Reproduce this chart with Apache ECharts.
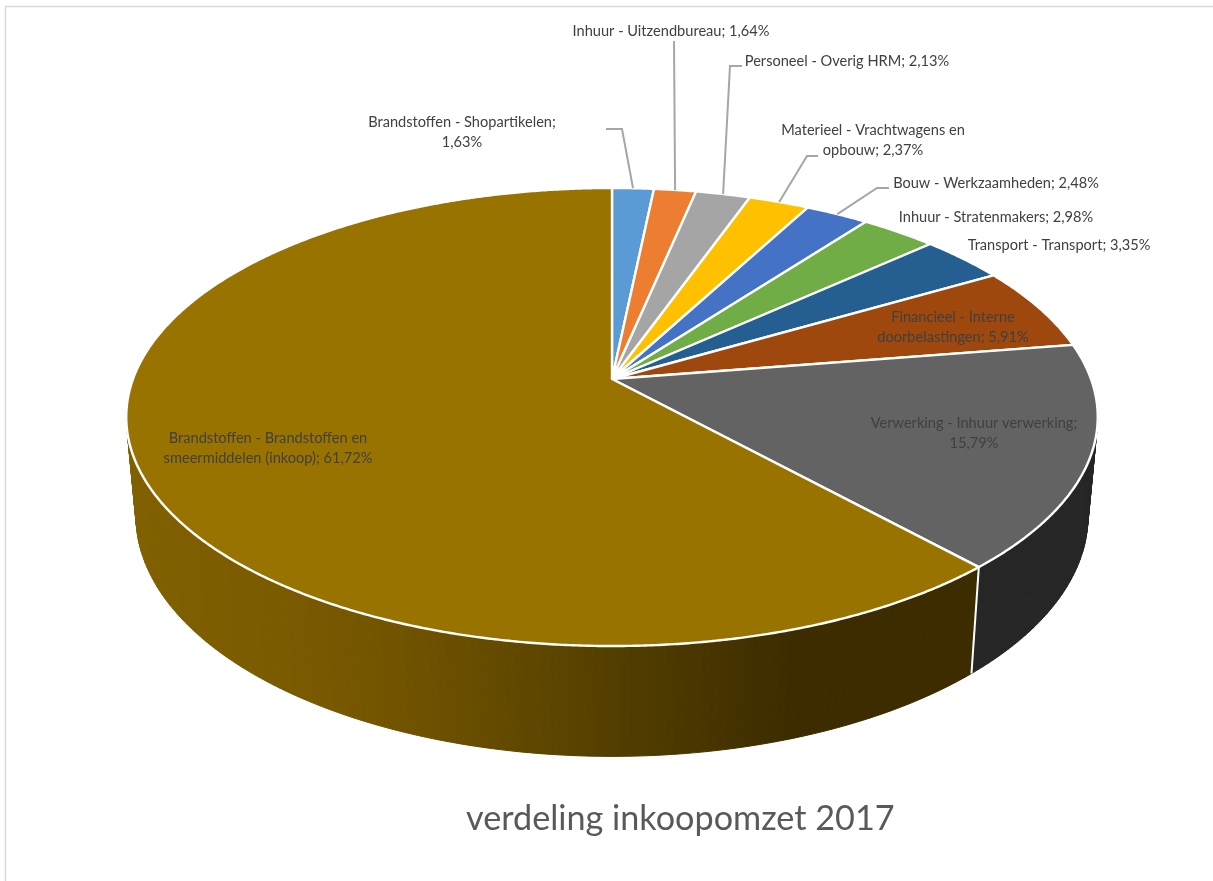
<!DOCTYPE html>
<html>
<head>
<meta charset="utf-8">
<title>verdeling inkoopomzet 2017</title>
<script src="https://cdn.jsdelivr.net/npm/echarts@6/dist/echarts.min.js"></script>
<style>
    html, body { margin: 0; padding: 0; background: #fff; }
    #PieChart { width: 1213px; height: 881px; }
</style>
</head>
<body>
<div id="PieChart"></div>
<script>
const chartTitle = 'verdeling inkoopomzet 2017'
const categories = [
    'Brandstoffen - Shopartikelen',
    'Inhuur - Uitzendbureau',
    'Personeel - Overig HRM',
    'Materieel - Vrachtwagens en opbouw',
    'Bouw - Werkzaamheden',
    'Inhuur - Stratenmakers',
    'Transport - Transport',
    'Financieel - Interne doorbelastingen',
    'Verwerking - Inhuur verwerking',
    'Brandstoffen - Brandstoffen en smeermiddelen (inkoop)'
]
const seriesValues = [1.63, 1.64, 2.13, 2.37, 2.48, 2.98, 3.35, 5.91, 15.79, 61.72]

const sliceColors = ['#5b9bd5', '#ed7d31', '#a5a5a5', '#ffc000', '#4472c4', '#70ad47', '#255e91', '#9e480e', '#636363', '#997300']

// where each label goes; leader runs from the rim to these points
const labelLayout = [
    { x: 462, y: 132, breakAfter: 'Shopartikelen;', leader: [[622, 129], [606, 129]] },
    { x: 671, y: 31, leader: [[674, 41]] },
    { x: 847, y: 61, leader: [[730, 66], [742, 66]] },
    { x: 873, y: 140, breakAfter: 'Vrachtwagens en', leader: [[807, 156], [818, 156]] },
    { x: 996, y: 183, leader: [[877, 188], [889, 188]] },
    { x: 996, y: 217 },
    { x: 1059, y: 245 },
    { x: 953, y: 327, breakAfter: 'Interne' },
    { x: 974, y: 433, breakAfter: 'verwerking;' },
    { x: 268, y: 448, breakAfter: 'Brandstoffen en' }
]

// the tilted disc: apex of the slices and perspective of the rim
const apex = { x: 612, y: 379 }
const disc = { rx: 479, ry: 222.7, tilt: -0.166 }
const base = { dy: 97, sx: 0.98, sy: 1.05 }

// side wall shading of the big slice, dark towards the right
const wallStops = [[130, '#806000'], [300, '#7a5a00'], [420, '#6f5200'], [600, '#554000'], [790, '#3d2c00'], [980, '#3d2c00']]
const wallDark = '#262626'
const labelFont = '14.6px Lato'

const total = seriesValues.reduce((a, b) => a + b, 0)
const startPct = []
seriesValues.reduce((sum, v, i) => { startPct[i] = sum; return sum + v }, 0)

const rimOffset = (pct) => {
    const a = pct / total * Math.PI * 2
    const u = Math.sin(a)
    const v = -Math.cos(a)
    const d = 1 + disc.tilt * v
    return [disc.rx * u / d, disc.ry * v / d]
}
const topPoint = (pct) => {
    const p = rimOffset(pct)
    return [apex.x + p[0], apex.y + p[1]]
}
const basePoint = (pct) => {
    const p = rimOffset(pct)
    return [apex.x + p[0] * base.sx, apex.y + base.dy + p[1] * base.sy]
}
const wallColor = (x) => {
    for (let i = 1; i < wallStops.length; i++) {
        if (x <= wallStops[i][0]) {
            const t = Math.max(0, (x - wallStops[i - 1][0]) / (wallStops[i][0] - wallStops[i - 1][0]))
            return echarts.color.lerp(t, [wallStops[i - 1][1], wallStops[i][1]])
        }
    }
    return wallStops[wallStops.length - 1][1]
}

const renderWall = (params) => {
    const i = params.dataIndex
    const children = []
    if (i < 8) return { type: 'group', children }
    const from = startPct[i]
    const to = from + seriesValues[i]
    const step = 0.25
    for (let p = from; p < to; p += step) {
        const q = Math.min(p + step, to)
        const t1 = topPoint(p), t2 = topPoint(q), b1 = basePoint(p), b2 = basePoint(q)
        if (t1[1] < apex.y - 60) continue
        const color = i === 8 ? wallDark : wallColor((t1[0] + t2[0]) / 2)
        children.push({
            type: 'polygon',
            shape: { points: [t1, t2, b2, b1] },
            style: { fill: color, stroke: color, lineWidth: 1 }
        })
    }
    if (i === 9) {
        children.push({
            type: 'line',
            shape: { x1: topPoint(from)[0], y1: topPoint(from)[1], x2: basePoint(from)[0], y2: basePoint(from)[1] },
            style: { stroke: '#fff', lineWidth: 2 }
        })
    }
    return { type: 'group', children }
}

const renderFace = (params) => {
    const i = params.dataIndex
    const from = startPct[i]
    const to = from + seriesValues[i]
    const points = [[apex.x, apex.y]]
    for (let p = from; p < to; p += 0.1) points.push(topPoint(p))
    points.push(topPoint(to))
    return {
        type: 'polygon',
        shape: { points },
        style: { fill: sliceColors[i], stroke: '#fff', lineWidth: 2.4, lineJoin: 'round' }
    }
}

const renderLabel = (params) => {
    const i = params.dataIndex
    const layout = labelLayout[i]
    let text = categories[i] + '; ' + seriesValues[i].toFixed(2).replace('.', ',') + '%'
    if (layout.breakAfter) text = text.replace(layout.breakAfter + ' ', layout.breakAfter + '\n')
    const children = [{
        type: 'text',
        style: {
            text, x: layout.x, y: layout.y,
            align: 'center', verticalAlign: 'middle',
            font: labelFont, lineHeight: 20, fill: '#404040'
        }
    }]
    if (layout.leader) {
        children.push({
            type: 'polyline',
            shape: { points: [topPoint(startPct[i] + seriesValues[i] / 2)].concat(layout.leader) },
            style: { stroke: '#a6a6a6', lineWidth: 2, fill: null }
        })
    }
    return { type: 'group', children }
}

const customSeries = (name, renderItem) => ({
    type: 'custom',
    name,
    coordinateSystem: 'none',
    silent: true,
    animation: false,
    data: seriesValues.map((v, i) => [i, v]),
    renderItem
})

const myChart = echarts.init(document.getElementById('PieChart'), null, { renderer: 'canvas' })
myChart.setOption({
    backgroundColor: '#fff',
    animation: false,
    title: {
        text: chartTitle,
        left: 466,
        top: 802,
        padding: 0,
        textStyle: { fontFamily: 'Lato', fontWeight: 400, fontSize: 34.2, color: '#595959' }
    },
    graphic: [{
        type: 'rect',
        silent: true,
        shape: { x: 5.5, y: 6.5, width: 1300, height: 1000 },
        style: { fill: null, stroke: '#d9d9d9', lineWidth: 1.5 }
    }],
    series: [
        customSeries('wall', renderWall),
        customSeries('face', renderFace),
        customSeries('label', renderLabel)
    ]
})
</script>
</body>
</html>
